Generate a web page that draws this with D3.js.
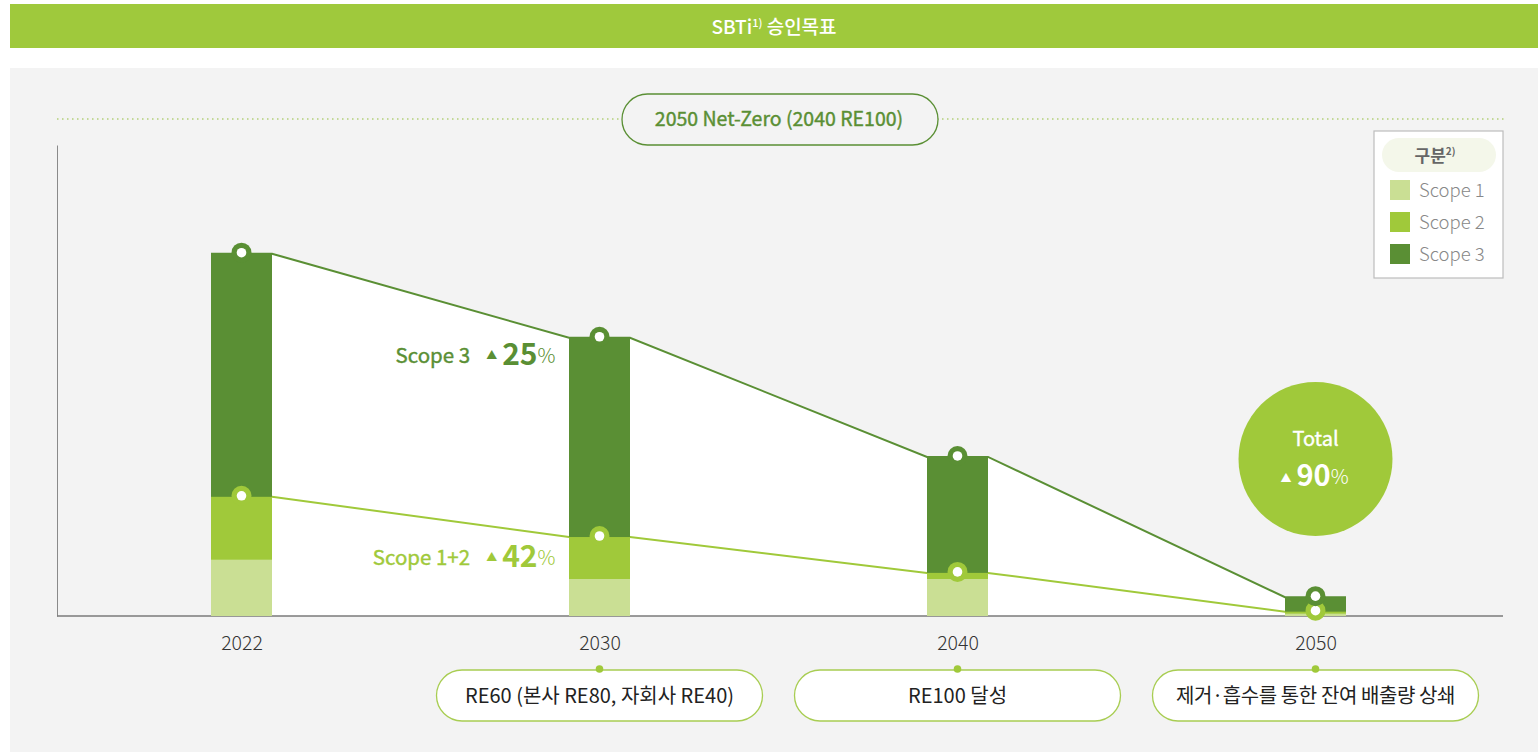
<!DOCTYPE html>
<html>
<head>
<meta charset="utf-8">
<script src="https://cdn.jsdelivr.net/npm/d3@7"></script>
<style>
  body { margin: 0; background: #fff; }
  text { font-family: "Noto Sans CJK KR", "Noto Sans", sans-serif; }
</style>
</head>
<body>
<div id="chart"></div>
<script>
const years  = ["2022", "2030", "2040", "2050"];
const scope1 = [15.5, 10.2, 10.2, 0.6];
const scope2 = [17.4, 11.6, 1.7, 0.6];
const scope3 = [67.1, 55.0, 32.0, 4.0];
const notes  = ["", "RE60 (본사 RE80, 자회사 RE40)", "RE100 달성", "제거·흡수를 통한 잔여 배출량 상쇄"];
const legendLabels = ["Scope 1", "Scope 2", "Scope 3"];
const reductionScope3  = "25";
const reductionScope12 = "42";
const reductionTotal   = "90";

const width = 1538, height = 752;
const c1 = "#cadf94", c2 = "#a0c93a", c3 = "#5a8f34";

const svg = d3.select("#chart")
              .append("svg")
              .attr("width", width)
              .attr("height", height);

// banner
svg.append("rect").attr("x", 10).attr("y", 4).attr("width", 1528).attr("height", 44).attr("fill", "#9fc93c");
const title = svg.append("text")
   .attr("x", 774).attr("y", 34)
   .attr("text-anchor", "middle")
   .attr("fill", "#fff")
   .attr("font-size", "19px")
   .attr("font-weight", 500);
title.append("tspan").text("SBTi");
title.append("tspan").attr("font-size", "11px").attr("dy", -7).text("1)");
title.append("tspan").attr("dy", 7).text(" 승인목표");

// panel
svg.append("rect").attr("x", 10).attr("y", 68).attr("width", 1528).attr("height", 684).attr("fill", "#f3f3f3");

// dotted line + net zero pill
svg.append("line").attr("x1", 57).attr("x2", 1505).attr("y1", 119).attr("y2", 119)
   .attr("stroke", "#b3cf78").attr("stroke-width", 1.5).attr("stroke-dasharray", "1.5 3.5");
svg.append("rect").attr("x", 622).attr("y", 94).attr("width", 316).attr("height", 51).attr("rx", 25.5)
   .attr("fill", "#f3f3f3").attr("stroke", c3).attr("stroke-width", 1.3);
svg.append("text").attr("x", 779).attr("y", 126).attr("text-anchor", "middle")
   .attr("fill", c3).attr("font-size", "19.5px").attr("font-weight", 400)
   .attr("stroke", c3).attr("stroke-width", 0.4)
   .text("2050 Net-Zero (2040 RE100)");

// data table
const data = years.map((yr, i) => ({ year: yr, s1: scope1[i], s2: scope2[i], s3: scope3[i] }));
const stacked = d3.stack().keys(["s1", "s2", "s3"])(data);
const colors = [c1, c2, c3];

const x = d3.scalePoint().domain(years).range([241.5, 1315.5]);
const y = d3.scaleLinear().domain([0, 130]).range([616, 145]);
const barW = 61;

// white area between bars
const areaPts = [];
data.forEach(d => {
    const t = d.s1 + d.s2 + d.s3;
    areaPts.push([x(d.year) - barW / 2, t], [x(d.year) + barW / 2, t]);
});
svg.append("path")
   .datum(areaPts)
   .attr("fill", "#fff")
   .attr("d", d3.area().x(d => d[0]).y0(y(0)).y1(d => y(d[1])));

// lines
const linePts12 = [];
data.forEach(d => {
    linePts12.push([x(d.year) - barW / 2, d.s1 + d.s2], [x(d.year) + barW / 2, d.s1 + d.s2]);
});
const line = d3.line().x(d => d[0]).y(d => y(d[1]));
svg.append("path").datum(areaPts).attr("fill", "none").attr("stroke", c3).attr("stroke-width", 2).attr("d", line);
svg.append("path").datum(linePts12).attr("fill", "none").attr("stroke", c2).attr("stroke-width", 2).attr("d", line);

// axes
svg.append("g")
   .attr("transform", "translate(57,0)")
   .call(d3.axisLeft(y).ticks(0).tickSizeOuter(0))
   .call(g => g.select(".domain").attr("stroke", "#8a8a8a"));
svg.append("line").attr("x1", 57).attr("x2", 1503).attr("y1", y(0)).attr("y2", y(0))
   .attr("stroke", "#7a7a7a").attr("stroke-width", 1.3);
svg.append("g")
   .attr("transform", `translate(0,${y(0)})`)
   .call(d3.axisBottom(x).tickSize(0).tickPadding(20))
   .call(g => g.select(".domain").remove())
   .call(g => g.selectAll("text")
       .attr("font-size", "19.5px").attr("fill", "#333")
       .attr("font-family", "'Noto Sans CJK KR', sans-serif").attr("font-weight", 300));

// bars
svg.append("g")
   .selectAll("g")
   .data(stacked)
   .join("g")
   .attr("fill", (d, i) => colors[i])
   .selectAll("rect")
   .data(d => d)
   .join("rect")
   .attr("x", d => x(d.data.year) - barW / 2)
   .attr("y", d => y(d[1]))
   .attr("height", d => y(d[0]) - y(d[1]))
   .attr("width", barW);

// markers
function marker(cx, cy, col) {
    svg.append("circle").attr("cx", cx).attr("cy", cy).attr("r", 10).attr("fill", col);
    svg.append("circle").attr("cx", cx).attr("cy", cy).attr("r", 4.8).attr("fill", "#fff");
}
data.forEach(d => marker(x(d.year), y(d.s1 + d.s2) - 1, c2));
data.forEach(d => marker(x(d.year), y(d.s1 + d.s2 + d.s3) - 1, c3));

// reduction labels
function reduction(xEnd, yBase, label, value, col) {
    const t = svg.append("text").attr("x", xEnd).attr("y", yBase).attr("text-anchor", "end").attr("fill", col);
    t.append("tspan").attr("font-size", "20.5px").attr("font-weight", 400)
     .attr("stroke", col).attr("stroke-width", 0.4).text(label);
    t.append("tspan").attr("font-size", "11px").attr("dx", 16).attr("dy", -4).text("▲");
    t.append("tspan").attr("font-size", "30px").attr("font-weight", 700).attr("dx", 5).attr("dy", 6).text(value);
    t.append("tspan").attr("font-size", "20px").attr("font-weight", 300).attr("dy", -2).text("%");
}
reduction(x("2030") - 44, 363, "Scope 3", reductionScope3, c3);
reduction(x("2030") - 44, 565, "Scope 1+2", reductionScope12, c2);

// total circle
svg.append("circle").attr("cx", x("2050")).attr("cy", 459).attr("r", 77).attr("fill", "#a0c93a");
svg.append("text").attr("x", x("2050")).attr("y", 446).attr("text-anchor", "middle")
   .attr("fill", "#fff").attr("font-size", "20px").attr("font-weight", 400)
   .attr("stroke", "#fff").attr("stroke-width", 0.4).text("Total");
const tt = svg.append("text").attr("x", x("2050") - 1).attr("y", 486).attr("text-anchor", "middle").attr("fill", "#fff");
tt.append("tspan").attr("font-size", "11px").attr("dy", -4).text("▲");
tt.append("tspan").attr("font-size", "29px").attr("font-weight", 700).attr("dx", 5).attr("dy", 4).text(reductionTotal);
tt.append("tspan").attr("font-size", "20px").attr("font-weight", 300).attr("dy", -2).text("%");

// note pills
data.forEach((d, i) => {
    if (!notes[i]) return;
    const cx = x(d.year);
    svg.append("rect").attr("x", cx - 163).attr("y", 670).attr("width", 326).attr("height", 51).attr("rx", 25.5)
       .attr("fill", "#fff").attr("stroke", "#a8cd52").attr("stroke-width", 1.3);
    svg.append("circle").attr("cx", cx).attr("cy", 669).attr("r", 3.8).attr("fill", "#a0c93a");
    svg.append("text").attr("x", cx).attr("y", 703).attr("text-anchor", "middle")
       .attr("fill", "#222").attr("font-size", "20px").attr("font-weight", 400)
       .attr("letter-spacing", i === 3 ? "-0.4px" : "0px")
       .text(notes[i]);
});

// legend
const lg = svg.append("g").attr("transform", "translate(1374,131)");
lg.append("rect").attr("width", 129).attr("height", 147).attr("fill", "#fff").attr("stroke", "#bdbdbd").attr("stroke-width", 1.2);
lg.append("rect").attr("x", 8).attr("y", 7).attr("width", 114).attr("height", 34).attr("rx", 17).attr("fill", "#f4f7ea");
const lt = lg.append("text").attr("x", 61).attr("y", 31).attr("text-anchor", "middle").attr("fill", "#666")
   .attr("font-size", "17px").attr("font-weight", 700);
lt.append("tspan").text("구분");
lt.append("tspan").attr("font-size", "10px").attr("dy", -7).text("2)");
legendLabels.forEach((lab, i) => {
    lg.append("rect").attr("x", 16).attr("y", 49 + i * 32).attr("width", 20).attr("height", 20).attr("fill", colors[i]);
    lg.append("text").attr("x", 45).attr("y", 66 + i * 32).attr("fill", "#888")
      .attr("font-size", "18.5px").attr("font-weight", 300).text(lab);
});
</script>
</body>
</html>
